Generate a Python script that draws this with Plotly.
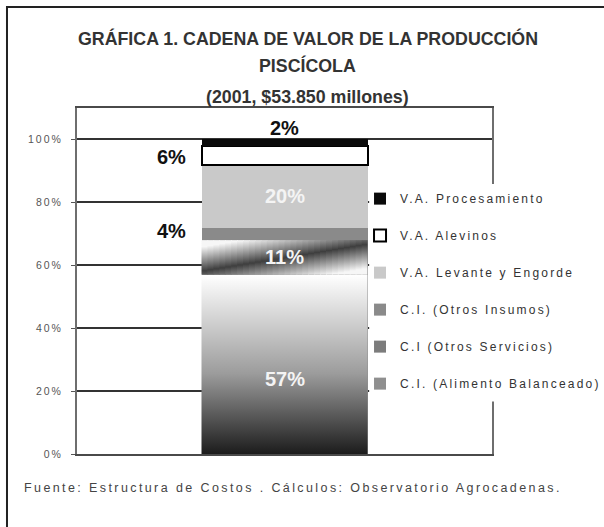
import plotly.graph_objects as go

# ---------------- data ----------------
series_names = [
    "C.I. (Alimento Balanceado)",
    "C.I (Otros Servicios)",
    "C.I. (Otros Insumos)",
    "V.A. Levante y Engorde",
    "V.A. Alevinos",
    "V.A. Procesamiento",
]
shares = [57, 11, 4, 20, 6, 2]          # percent of the chain value
share_labels = ["57%", "11%", "4%", "20%", "6%", "2%"]
category_x = [0]                          # single stacked column (2001)
tick_values = [0, 20, 40, 60, 80, 100]
tick_labels = ["0%", "20%", "40%", "60%", "80%", "100%"]
title_lines = [
    "GRÁFICA 1. CADENA DE VALOR DE LA PRODUCCIÓN",
    "PISCÍCOLA",
    "(2001, $53.850 millones)",
]
source_note = "Fuente: Estructura de Costos . Cálculos: Observatorio Agrocadenas."

# ---------------- style ----------------
bar_colors = ["#8f8f8f", "#7c7c7c", "#8a8a8a", "#c9c9c9", "#ffffff", "#0a0a0a"]
bar_lines = [0, 0, 0, 0, 2, 0]
BAR_W = 0.4
FONT = "Liberation Sans, Arial, sans-serif"

bases = []
acc = 0
for v in shares:
    bases.append(acc)
    acc += v

fig = go.Figure()

# stacked bars (data marks)
n = len(series_names)
for i, (name, v) in enumerate(zip(series_names, shares)):
    fig.add_trace(go.Bar(
        x=category_x, y=[v], name=name, width=BAR_W,
        marker=dict(color=bar_colors[i],
                    line=dict(color="#000000", width=bar_lines[i])),
        legendgroup=f"g{i}", legendrank=n - i, hoverinfo="name+y",
    ))

# gradient texture for "Alimento Balanceado" (vertical dark -> white)
b0, v0 = bases[0], shares[0]
fig.add_trace(go.Scatter(
    x=[-BAR_W / 2, BAR_W / 2, BAR_W / 2, -BAR_W / 2, -BAR_W / 2],
    y=[b0, b0, b0 + v0, b0 + v0, b0],
    mode="lines", line=dict(width=0), fill="toself",
    fillgradient=dict(type="vertical", start=b0, stop=b0 + v0,
                      colorscale=[[0, "#1c1c1c"], [0.45, "#9c9c9c"], [1, "#ffffff"]]),
    showlegend=False, hoverinfo="skip",
))

# diagonal gradient texture for "Otros Servicios"
b1, v1 = bases[1], shares[1]
ncol = 28
SPREAD = 0.7


def shade(d):
    t = min(d / SPREAD, 1.0)
    g = int(round(62 + (246 - 62) * t))
    return f"rgb({g},{g},{g})"


for k in range(ncol):
    xa = -BAR_W / 2 + BAR_W * k / ncol
    xb = -BAR_W / 2 + BAR_W * (k + 1) / ncol + (0.002 if k < ncol - 1 else 0)
    u = (k + 0.5) / ncol
    c = 0.10 + 0.78 * u
    stops = [(0.0, shade(c))]
    if c - SPREAD > 0:
        stops.append((c - SPREAD, shade(SPREAD)))
    stops.append((c, shade(0)))
    if c + SPREAD < 1:
        stops.append((c + SPREAD, shade(SPREAD)))
    stops.append((1.0, shade(1 - c)))
    fig.add_trace(go.Scatter(
        x=[xa, xb, xb, xa, xa], y=[b1, b1, b1 + v1, b1 + v1, b1],
        mode="lines", line=dict(width=0), fill="toself",
        fillgradient=dict(type="vertical", start=b1, stop=b1 + v1,
                          colorscale=[[p, col] for p, col in stops]),
        showlegend=False, hoverinfo="skip",
    ))

# value labels
label_style = {
    0: dict(pos="center", color="#f4f4f4", yshift=-15),
    1: dict(pos="center", color="#f4f4f4", yshift=0),
    2: dict(pos="left", color="#111111", yshift=3),
    3: dict(pos="center", color="#f4f4f4", yshift=0),
    4: dict(pos="left", color="#111111", yshift=-2),
    5: dict(pos="top", color="#111111", yshift=-2),
}
for i, txt in enumerate(share_labels):
    st = label_style[i]
    if st["pos"] == "center":
        x, xa, y, ya = 0, "center", bases[i] + shares[i] / 2, "middle"
    elif st["pos"] == "left":
        x, xa, y, ya = -BAR_W / 2, "right", bases[i] + shares[i] / 2, "middle"
    else:
        x, xa, y, ya = 0, "center", bases[i] + shares[i], "bottom"
    fig.add_annotation(
        x=x, y=y, xref="x", yref="y", text=f"<b>{txt}</b>", showarrow=False,
        xanchor=xa, yanchor=ya, xshift=(-14 if st["pos"] == "left" else 0),
        yshift=st["yshift"], font=dict(family=FONT, size=20, color=st["color"]),
    )

# title lines
for line, yp in zip(title_lines, [1.2023, 1.1214, 1.0318]):
    fig.add_annotation(
        x=0.5566, y=yp, xref="paper", yref="paper", text=f"<b>{line}</b>",
        showarrow=False, xanchor="center", yanchor="middle",
        font=dict(family=FONT, size=17.8, color="#333333"),
    )

# source note
fig.add_annotation(
    x=-0.1325, y=-0.098, xref="paper", yref="paper", text=source_note,
    showarrow=False, xanchor="left", yanchor="middle", align="left",
    font=dict(family=FONT, size=12.5, color="#444444"),
)

# outer frame
fig.add_shape(type="rect", xref="paper", yref="paper",
              x0=-0.1687, x1=1.6, y0=-0.6, y1=1.2919,
              line=dict(color="#222222", width=2), fillcolor="rgba(0,0,0,0)")

# white legend panel hiding grid lines to the right of the column
fig.add_shape(type="rect", xref="paper", yref="paper", layer="above",
              x0=0.7 + 0.004, x1=1.06, y0=0.152, y1=0.78,
              line=dict(width=0), fillcolor="white")

fig.update_layout(
    width=604, height=527,
    margin=dict(l=77, r=112, t=108, b=73),
    paper_bgcolor="white", plot_bgcolor="white",
    barmode="stack", bargap=0,
    font=dict(family=FONT, color="#333333"),
    showlegend=True,
    legend=dict(
        x=0.682, y=0.78, xanchor="left", yanchor="top",
        bgcolor="rgba(0,0,0,0)", borderwidth=0,
        traceorder="grouped", tracegroupgap=18,
        font=dict(family=FONT, size=12, color="#333333"),
        itemwidth=30,
    ),
    xaxis=dict(range=[-0.5, 0.5], showticklabels=False, ticks="",
               showgrid=False, zeroline=False,
               showline=True, mirror=True, linecolor="#4a4a4a", linewidth=2,
               fixedrange=True),
    yaxis=dict(range=[0, 110], tickvals=tick_values, ticktext=tick_labels,
               showgrid=True, gridcolor="#333333", gridwidth=1.6,
               zeroline=False, showline=True, mirror=True,
               linecolor="#6e6e6e", linewidth=2,
               ticks="outside", ticklen=4, tickcolor="#555555",
               ticklabelstandoff=6,
               tickfont=dict(family=FONT, size=10.5, color="#555555"),
               fixedrange=True),
)

post = """
document.body.style.margin = '0';
var gd = document.getElementById('{plot_id}');
gd.querySelectorAll('.legend [clip-path]').forEach(function(e){ e.removeAttribute('clip-path'); });
gd.querySelectorAll('.legendtext').forEach(function(e){ e.style.letterSpacing = '2.2px'; });
gd.querySelectorAll('.ytick text').forEach(function(e){ e.style.letterSpacing = '2px'; });
gd.querySelectorAll('.annotation-text').forEach(function(e){
  if (e.textContent.indexOf('Fuente') === 0) { e.style.letterSpacing = '2.4px'; }
});
"""

fig.write_html("out.html", post_script=post, config={"displayModeBar": False})
